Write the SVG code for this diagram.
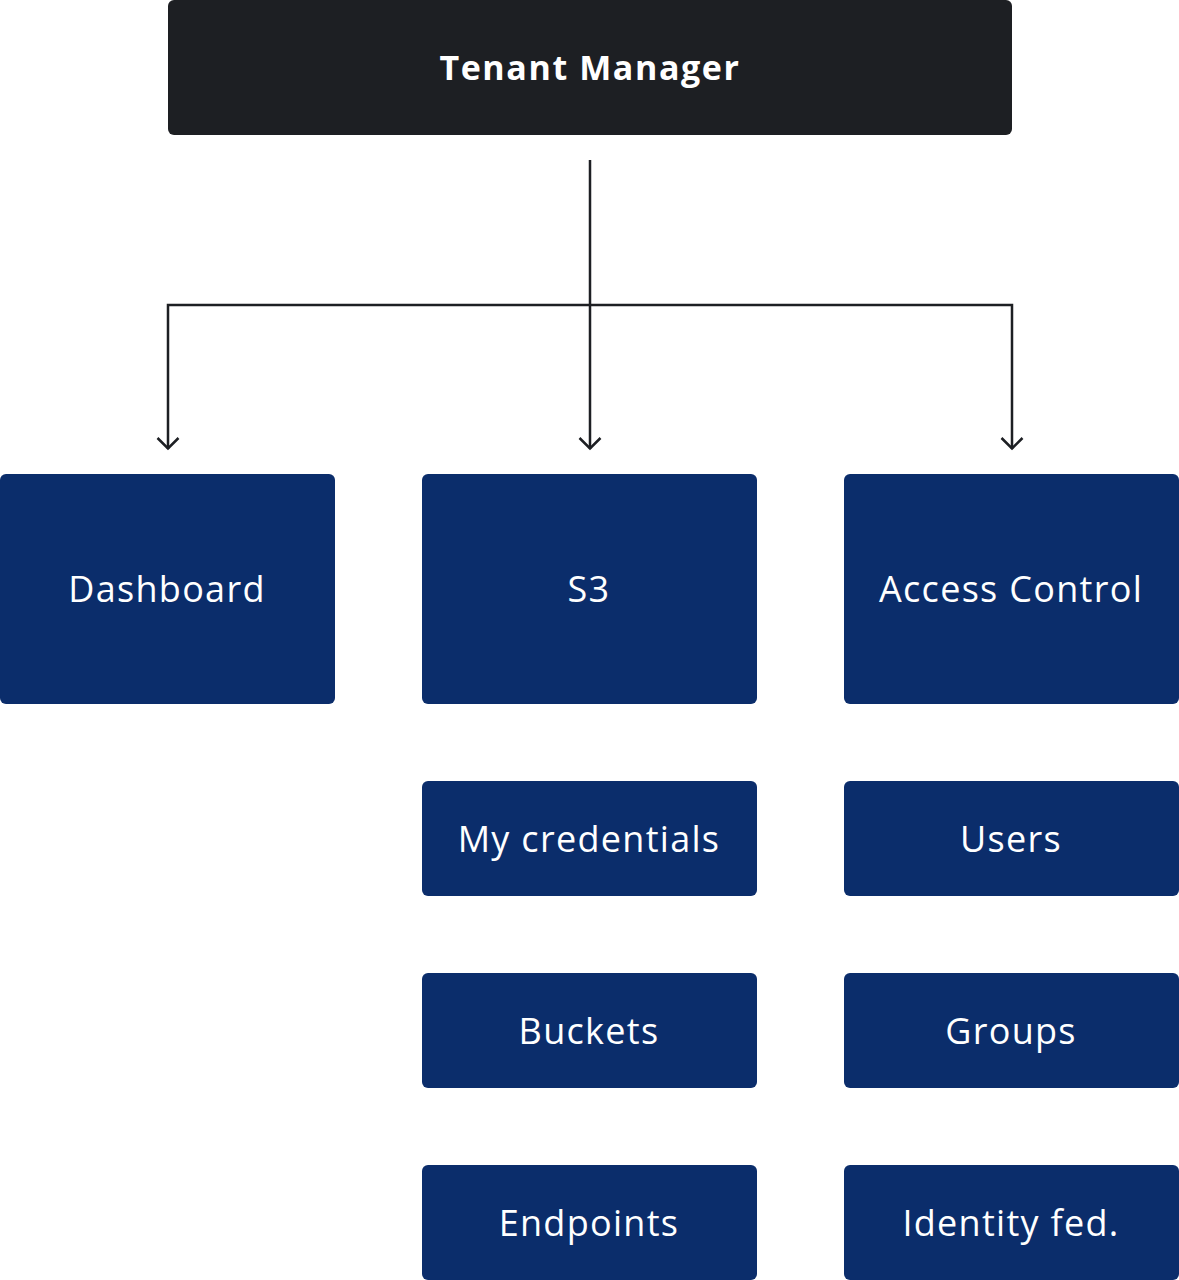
<svg xmlns="http://www.w3.org/2000/svg" width="1179" height="1280" viewBox="0 0 1179 1280">
<style>
.box{fill:#0b2d6b}
.top{fill:#1d1f23}
.lbl{font-family:"Open Sans","Liberation Sans",sans-serif;font-size:36px;fill:#ffffff;text-anchor:middle;dominant-baseline:central;letter-spacing:1.3px}
.ttl{font-family:"Open Sans","Liberation Sans",sans-serif;font-size:34px;font-weight:700;fill:#ffffff;text-anchor:middle;dominant-baseline:central;letter-spacing:1.6px}
.ln{fill:none;stroke:#1d1f23;stroke-width:2.5}
</style>
<defs>
<marker id="arr" viewBox="0 0 14 24" refX="12.5" refY="12" markerWidth="14" markerHeight="24" markerUnits="userSpaceOnUse" orient="auto">
<path d="M1.5 1.5 L12 12 L1.5 22.5" fill="none" stroke="#1d1f23" stroke-width="2.5"/>
</marker>
</defs>
<rect width="1179" height="1280" fill="#ffffff"/>
<g id="connectors">
<path class="ln" d="M590 160 V449" marker-end="url(#arr)"/>
<path class="ln" d="M590 305 H168 V449" marker-end="url(#arr)"/>
<path class="ln" d="M590 305 H1012 V449" marker-end="url(#arr)"/>
</g>
<g id="tenant-manager"><rect class="top" x="168" y="0" width="844" height="135" rx="6"/><text class="ttl" x="590" y="67">Tenant Manager</text></g>
<g id="dashboard"><rect class="box" x="0" y="474" width="335" height="230" rx="6"/><text class="lbl" x="167" y="588">Dashboard</text></g>
<g id="s3"><rect class="box" x="422" y="474" width="335" height="230" rx="6"/><text class="lbl" x="589" y="588">S3</text></g>
<g id="access-control"><rect class="box" x="844" y="474" width="335" height="230" rx="6"/><text class="lbl" x="1011" y="588">Access Control</text></g>
<g id="my-credentials"><rect class="box" x="422" y="781" width="335" height="115" rx="6"/><text class="lbl" x="589" y="838">My credentials</text></g>
<g id="buckets"><rect class="box" x="422" y="973" width="335" height="115" rx="6"/><text class="lbl" x="589" y="1030">Buckets</text></g>
<g id="endpoints"><rect class="box" x="422" y="1165" width="335" height="115" rx="6"/><text class="lbl" x="589" y="1222">Endpoints</text></g>
<g id="users"><rect class="box" x="844" y="781" width="335" height="115" rx="6"/><text class="lbl" x="1011" y="838">Users</text></g>
<g id="groups"><rect class="box" x="844" y="973" width="335" height="115" rx="6"/><text class="lbl" x="1011" y="1030">Groups</text></g>
<g id="identity-fed"><rect class="box" x="844" y="1165" width="335" height="115" rx="6"/><text class="lbl" x="1011" y="1222">Identity fed.</text></g>
</svg>
